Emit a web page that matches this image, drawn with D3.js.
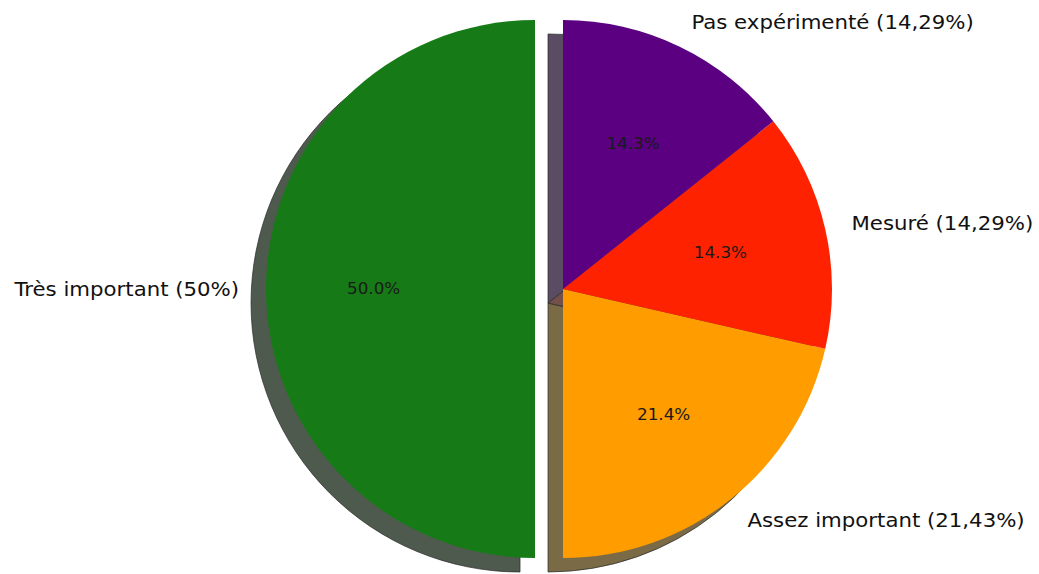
<!DOCTYPE html>
<html>
<head>
<meta charset="utf-8">
<script src="https://cdn.jsdelivr.net/npm/d3@7"></script>
<style>
  body { margin: 0; background: #fff; }
  text { font-family: "DejaVu Sans", sans-serif; }
</style>
</head>
<body>
<div id="chart"></div>
<script>
// data
var categories = ["Très important", "Assez important", "Mesuré", "Pas expérimenté"];
var values = [7, 3, 2, 2];
var legendText = ["Très important (50%)", "Assez important (21,43%)", "Mesuré (14,29%)", "Pas expérimenté (14,29%)"];
var colors = ["#167b16", "#ff9c00", "#ff2200", "#5a0080"];
var shadowColors = ["#4e5a4e", "#7a6a46", "#74504a", "#5a4c62"];
var explode = [0.104, 0, 0, 0];

var width = 1039, height = 574;
var cx = 563, cy = 289, r = 269;
var shadowDx = -15, shadowDy = 14;

var svg = d3.select("#chart").append("svg")
    .attr("width", width)
    .attr("height", height);

// matplotlib style: start at top, counterclockwise
var pie = d3.pie()
    .sort(null)
    .startAngle(0)
    .endAngle(-2 * Math.PI);

var arcs = pie(values);
var arc = d3.arc().innerRadius(0).outerRadius(r);

function midAngle(d) { return (d.startAngle + d.endAngle) / 2; }
// d3 angle: 0 at top, clockwise. convert to x,y offsets
function offX(a, k) { return Math.sin(a) * k; }
function offY(a, k) { return -Math.cos(a) * k; }

var g = svg.append("g").attr("transform", "translate(" + cx + "," + cy + ")");

// shadows
g.selectAll(".shadow")
    .data(arcs)
    .enter().append("path")
    .attr("class", "shadow")
    .attr("d", arc)
    .attr("transform", function (d, i) {
        var a = midAngle(d);
        return "translate(" + (offX(a, explode[i] * r) + shadowDx) + "," + (offY(a, explode[i] * r) + shadowDy) + ")";
    })
    .attr("fill", function (d, i) { return shadowColors[i]; })
    .attr("stroke", "#2a2a2a")
    .attr("stroke-opacity", 0.7)
    .attr("stroke-width", 1);

// wedges
g.selectAll(".slice")
    .data(arcs)
    .enter().append("path")
    .attr("class", "slice")
    .attr("d", arc)
    .attr("transform", function (d, i) {
        var a = midAngle(d);
        return "translate(" + offX(a, explode[i] * r) + "," + offY(a, explode[i] * r) + ")";
    })
    .attr("fill", function (d, i) { return colors[i]; });

// percent labels
g.selectAll(".pct")
    .data(arcs)
    .enter().append("text")
    .attr("class", "pct")
    .attr("transform", function (d, i) {
        var a = midAngle(d), k = (explode[i] + 0.6) * r;
        return "translate(" + offX(a, k) + "," + offY(a, k) + ") scale(1.12,1)";
    })
    .attr("text-anchor", "middle")
    .attr("dy", "0.35em")
    .style("font-size", "15px")
    .style("fill", "#1a1a1a")
    .text(function (d) { return (d.value / d3.sum(values) * 100).toFixed(1) + "%"; });

// category labels
g.selectAll(".label")
    .data(arcs)
    .enter().append("text")
    .attr("class", "label")
    .attr("transform", function (d, i) {
        var a = midAngle(d), k = (explode[i] + 1.1) * r;
        return "translate(" + offX(a, k) + "," + offY(a, k) + ") scale(1.12,1)";
    })
    .attr("text-anchor", function (d) { return offX(midAngle(d), 1) < 0 ? "end" : "start"; })
    .attr("dy", "0.35em")
    .style("font-size", "19px")
    .style("fill", "#111")
    .text(function (d, i) { return legendText[i]; });
</script>
</body>
</html>
